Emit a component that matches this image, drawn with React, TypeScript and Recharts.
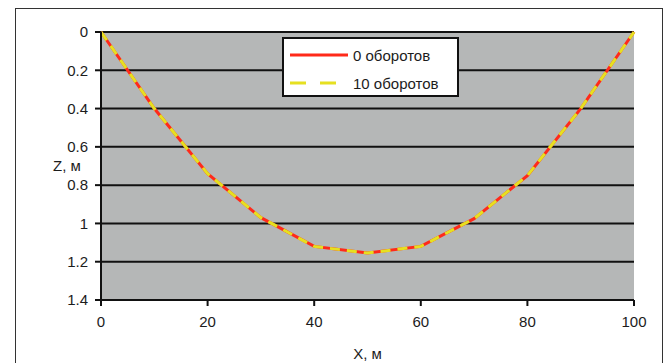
import React from 'react';
import {
  LineChart,
  Line,
  XAxis,
  YAxis,
  CartesianGrid,
  Label,
} from 'recharts';

const xPoints = [0, 10, 20, 30, 40, 50, 60, 70, 80, 90, 100];
const zTurns0 = [0, 0.4, 0.74, 0.97, 1.12, 1.155, 1.12, 0.975, 0.75, 0.4, 0];
const zTurns10 = [0, 0.4, 0.74, 0.97, 1.12, 1.155, 1.12, 0.975, 0.75, 0.4, 0];
const xTicks = [0, 20, 40, 60, 80, 100];
const zTicks = [0, 0.2, 0.4, 0.6, 0.8, 1, 1.2, 1.4];
const seriesNames = ['0 оборотов', '10 оборотов'];

const data = xPoints.map((x, i) => ({ x, z0: zTurns0[i], z10: zTurns10[i] }));

const FONT = '"Liberation Sans", Arial, sans-serif';
const TEXT = '#1c1c1c';
const tickStyle = { fill: TEXT, fontSize: 15, fontFamily: FONT };
const RED = '#ff2a1a';
const YELLOW = '#e6e020';

// legend drawn as an overlay so it doesn't eat into the plot height
function LegendBox() {
  const row = (label: string, stroke: string, dash?: string) => (
    <div style={{ display: 'flex', alignItems: 'center', height: 28 }}>
      <svg width={62} height={10} style={{ marginRight: 3 }}>
        <line x1={2} y1={5} x2={60} y2={5} stroke={stroke} strokeWidth={3} strokeDasharray={dash} />
      </svg>
      <span>{label}</span>
    </div>
  );
  return (
    <div
      style={{
        position: 'absolute',
        left: 282,
        top: 37,
        background: '#fff',
        border: '2px solid #111',
        boxSizing: 'border-box',
        width: 177,
        height: 60,
        padding: '2px 0 0 4px',
        fontFamily: FONT,
        fontSize: 15,
        color: TEXT,
      }}
    >
      {row(seriesNames[0], RED)}
      {row(seriesNames[1], YELLOW, '16 14')}
    </div>
  );
}

export default function App() {
  return (
    <div style={{ position: 'absolute', left: 0, top: 0, width: 669, height: 363, background: '#fff', overflow: 'hidden' }}>
      <div
        style={{
          position: 'absolute',
          left: 15,
          top: 8,
          width: 648,
          height: 370,
          border: '1.5px solid #333',
          boxSizing: 'border-box',
        }}
      />
      <div style={{ position: 'absolute', left: 0, top: 0 }}>
        <LineChart width={669} height={363} data={data} margin={{ top: 32, right: 35, bottom: 0, left: 50 }}>
          <CartesianGrid horizontal vertical={false} fill="#b5b7b7" stroke="#111" strokeWidth={2} />
          <XAxis
            dataKey="x"
            type="number"
            domain={[0, 100]}
            ticks={xTicks}
            height={63}
            tick={tickStyle}
            tickMargin={10}
            tickSize={6}
            axisLine={{ stroke: '#111', strokeWidth: 2 }}
            tickLine={{ stroke: '#111', strokeWidth: 2 }}
          >
            <Label value="X, м" position="insideBottom" offset={4} style={{ fill: TEXT, fontSize: 15, fontFamily: FONT }} />
          </XAxis>
          <YAxis
            type="number"
            domain={[0, 1.4]}
            ticks={zTicks}
            reversed
            width={51}
            tick={tickStyle}
            tickMargin={7}
            tickSize={6}
            axisLine={{ stroke: '#111', strokeWidth: 2 }}
            tickLine={{ stroke: '#111', strokeWidth: 2 }}
          >
            <Label value="Z, м" position="insideLeft" offset={3} style={{ fill: TEXT, fontSize: 15, fontFamily: FONT }} />
          </YAxis>
          <Line
            type="linear"
            dataKey="z0"
            name={seriesNames[0]}
            stroke={RED}
            strokeWidth={3}
            dot={false}
            isAnimationActive={false}
          />
          <Line
            type="linear"
            dataKey="z10"
            name={seriesNames[1]}
            stroke={YELLOW}
            strokeWidth={3}
            strokeDasharray="10 7"
            dot={false}
            isAnimationActive={false}
          />
        </LineChart>
      </div>
      <LegendBox />
    </div>
  );
}
